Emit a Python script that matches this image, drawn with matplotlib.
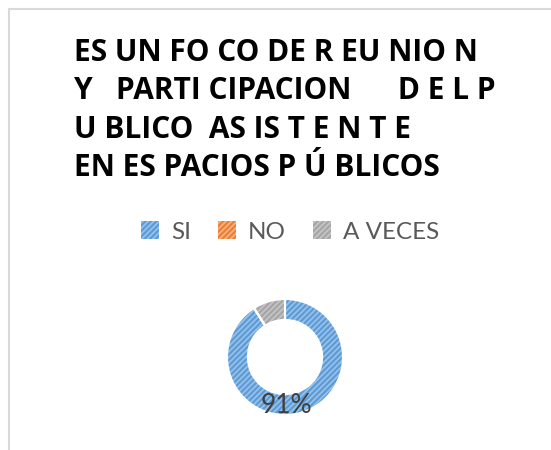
import matplotlib.pyplot as plt
from matplotlib.patches import Patch, Rectangle

# datos
categorias = ['SI', 'NO', 'A VECES']
valores = [91, 0, 9]
colores_fondo = ['#97c0ea', '#f4b183', '#c4c4c4']
colores_rayas = ['#5b9bd5', '#ed7d31', '#a5a5a5']
titulo = ['ES UN FO CO DE R EU NIO N',
          'Y   PARTI CIPACION      D E L P',
          'U BLICO  AS IS T E N T E',
          'EN ES PACIOS P Ú BLICOS']
etiqueta = '91%'

plt.rcParams['font.family'] = ['Lato', 'DejaVu Sans']
plt.rcParams['hatch.linewidth'] = 1.5

fig = plt.figure(figsize=(5.51, 4.5), dpi=100)

# borde del área del gráfico
fig.patches.append(Rectangle((9 / 551, -0.1), 1.2, 1 - 9 / 450 + 0.1,
                             transform=fig.transFigure, fill=False,
                             edgecolor='#d9d9d9', linewidth=1.5))

# titulo
fig.text(74 / 551, 1 - 38 / 450, '\n'.join(titulo), ha='left', va='top',
         fontsize=21.5, fontweight='bold', color='black', linespacing=1.36,
         family=['Open Sans', 'DejaVu Sans'])

# anillo
ax = fig.add_axes([(285 - 58) / 551, (450 - 357 - 58) / 450, 116 / 551, 116 / 450])
wedges, _ = ax.pie(valores, radius=1, startangle=90, counterclock=False,
                   colors=colores_fondo,
                   wedgeprops=dict(width=0.36, edgecolor='white', linewidth=0))
for w, c in zip(wedges, colores_rayas):
    w.set_hatch('//////')
    w.set_edgecolor(c)
# bordes blancos encima
ax.pie(valores, radius=1, startangle=90, counterclock=False,
       colors=['none'] * 3,
       wedgeprops=dict(width=0.36, edgecolor='white', linewidth=1.5, fill=False))
ax.set_xlim(-1, 1)
ax.set_ylim(-1, 1)
ax.set_aspect('equal')
ax.axis('off')
ax.text(0.03, -0.83, etiqueta, ha='center', va='center', fontsize=19, color='#404040')

# leyenda
handles = [Patch(facecolor=f, edgecolor=r, hatch='//////', linewidth=0)
           for f, r in zip(colores_fondo, colores_rayas)]
fig.legend(handles, categorias, loc='center', bbox_to_anchor=(290 / 551, 1 - 232 / 450),
           ncol=3, frameon=False, fontsize=17.5, labelcolor='#595959',
           handlelength=0.75, handleheight=0.75, handletextpad=0.5, columnspacing=1.1)

fig.savefig('out.png', dpi=100)
